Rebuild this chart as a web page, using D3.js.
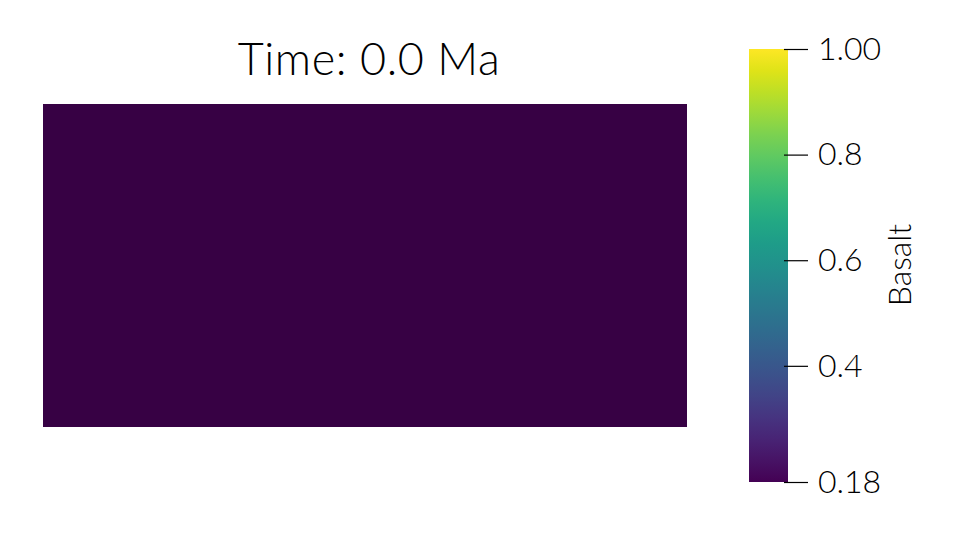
<!DOCTYPE html>
<html lang="en">
<head>
  <meta charset="UTF-8">
  <title>Basalt</title>
  <style>
    body { margin: 0; background: #fff; }
    text { font-family: Lato, 'Liberation Sans', sans-serif; font-weight: 300; fill: #000; }
  </style>
</head>
<body>
  <svg id="svg" width="960" height="540"></svg>
  <script src="https://d3js.org/d3.v7.min.js"></script>
  <script>
    // model domain (relative units) and the field value on it
    const domainX = [0, 2]
    const domainY = [0, 1]
    const cells = [{ x0: 0, x1: 2, y0: 0, y1: 1, value: 0.18 }]
    const title = 'Time: 0.0 Ma'
    const fieldName = 'Basalt'
    const colorRange = [0.18, 1.0]
    const tickValues = [0.18, 0.4, 0.6, 0.8, 1.0]
    const tickLabels = ['0.18', '0.4', '0.6', '0.8', '1.00']

    const svg = d3.select('#svg')

    const xScale = d3.scaleLinear().domain(domainX).range([43, 687])
    const yScale = d3.scaleLinear().domain(domainY).range([427, 104])
    const color = d3.scaleSequential(d3.interpolateViridis).domain(colorRange)

    // field (shaded a bit darker like the rendered surface)
    svg.append('g')
      .selectAll('rect')
      .data(cells)
      .enter()
      .append('rect')
      .attr('x', d => xScale(d.x0))
      .attr('y', d => yScale(d.y1))
      .attr('width', d => xScale(d.x1) - xScale(d.x0))
      .attr('height', d => yScale(d.y0) - yScale(d.y1))
      .attr('fill', d => d3.color(color(d.value)).darker(0.6))

    svg.append('text')
      .attr('x', 369)
      .attr('y', 75)
      .attr('text-anchor', 'middle')
      .style('font-size', '45px')
      .style('letter-spacing', '0.6px')
      .text(title)

    // colorbar
    const cbScale = d3.scaleLinear().domain(colorRange).range([482, 49])
    const defs = svg.append('defs')
    const grad = defs.append('linearGradient')
      .attr('id', 'cb')
      .attr('x1', 0).attr('y1', 1).attr('x2', 0).attr('y2', 0)
    d3.range(0, 1.0001, 0.05).forEach(t => {
      grad.append('stop')
        .attr('offset', t)
        .attr('stop-color', d3.interpolateViridis(t))
    })
    svg.append('rect')
      .attr('x', 749)
      .attr('y', cbScale(colorRange[1]))
      .attr('width', 39)
      .attr('height', cbScale(colorRange[0]) - cbScale(colorRange[1]))
      .attr('fill', 'url(#cb)')

    const axis = d3.axisRight(cbScale)
      .tickValues(tickValues)
      .tickFormat((d, i) => tickLabels[i])
      .tickSize(24)
      .tickPadding(10)
    const ax = svg.append('g')
      .attr('transform', 'translate(784,0)')
      .call(axis)
    ax.select('.domain').remove()
    ax.selectAll('line').attr('stroke', '#000').attr('stroke-width', 1.2)
    ax.selectAll('text')
      .style('font-size', '32px')
      .style('font-family', 'Lato, sans-serif')
      .style('font-weight', 300)
      .attr('fill', '#000')

    svg.append('text')
      .attr('transform', 'translate(911,265) rotate(-90)')
      .attr('text-anchor', 'middle')
      .style('font-size', '32px')
      .text(fieldName)
  </script>
</body>
</html>
